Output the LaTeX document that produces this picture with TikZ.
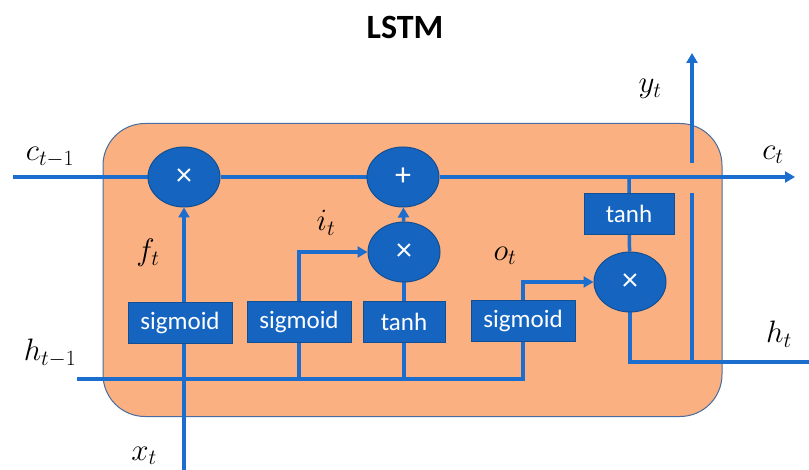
\RequirePackage{fix-cm}
\documentclass[tikz,border=0pt]{standalone}
\usepackage{fontspec}
\setsansfont{Carlito}
\usepackage{tikz}
\usetikzlibrary{arrows.meta, positioning, shapes.geometric, backgrounds}
\pgfdeclarelayer{cellbg}
\pgfsetlayers{cellbg,background,main}
\definecolor{lstmblue}{RGB}{21,101,192}
\definecolor{lstmedge}{RGB}{18,78,148}
\definecolor{lstmline}{RGB}{28,110,206}
\definecolor{cellfill}{RGB}{250,176,128}
\definecolor{celledge}{RGB}{72,108,158}
\tikzset{
  gate/.style   ={rectangle, draw=lstmedge, line width=1pt, fill=lstmblue,
                  text=white, minimum height=41pt, inner sep=0pt,
                  font=\sffamily\fontsize{25}{27}\selectfont},
  op/.style     ={ellipse, draw=lstmedge, line width=1pt, fill=lstmblue,
                  text=white, minimum width=72pt, minimum height=60pt,
                  inner sep=0pt, font=\sffamily\fontsize{32}{34}\selectfont},
  cellbox/.style={rectangle, draw=celledge, line width=1pt, fill=cellfill,
                  rounded corners=42pt, inner sep=0pt},
  wire/.style   ={line width=3.5pt, lstmline},
  ar/.style     ={wire, -{Triangle[length=10pt, width=11pt]}},
  lbl/.style    ={font=\fontsize{31}{34}\selectfont, inner sep=0pt}
}

\begin{document}
\begin{tikzpicture}[x=1pt, y=-1pt]
\useasboundingbox (0,0) rectangle (809,470);

%  Title
\node[font=\sffamily\bfseries\fontsize{34}{36}\selectfont] (title)
      at (405,27) {LSTM};

%  Cell body
\begin{pgfonlayer}{cellbg}
\node[cellbox, minimum width=619pt, minimum height=293pt] (cell)
      at (412.5,270) {};
\end{pgfonlayer}

%  Pointwise operations
\node[op] (mulf) at (184,177) {×};
\node[op] (addc) at (403,177) {+};
\node[op] (muli) at (404,252) {×};
\node[op] (mulo) at (630,282) {×};

%  Layers
\node[gate, minimum width=104pt] (sigf)  at (180,323) {sigmoid};
\node[gate, minimum width=104pt] (sigi)  at (299,322) {sigmoid};
\node[gate, minimum width=82pt]  (tanhi) at (404,322) {tanh};
\node[gate, minimum width=104pt] (sigo)  at (523,321) {sigmoid};
\node[gate, minimum width=90pt]  (tanhc) at (629,214) {tanh};

%  Inputs and outputs
\coordinate (cin)  at (13,177);
\coordinate (cout) at (795,177);
\coordinate (hin)  at (77,379);
\coordinate (hout) at (809,362);
\coordinate (xin)  at (184,470);
\coordinate (ytap) at (692,362);
\coordinate (ylow) at (692,193);
\coordinate (yup)  at (692,163);
\coordinate (yout) at (692,53);

%  Labels
\node[lbl] (lcin)  at (50,157)  {$c_{t-1}$};
\node[lbl] (lcout) at (773,155) {$c_t$};
\node[lbl] (lhin)  at (50,353)  {$h_{t-1}$};
\node[lbl] (lhout) at (779,334) {$h_t$};
\node[lbl] (lxin)  at (144,456) {$x_t$};
\node[lbl] (lyout) at (650,89)  {$y_t$};
\node[lbl] (lf)    at (148,253) {$f_t$};
\node[lbl] (li)    at (326,223) {$i_t$};
\node[lbl] (lo)    at (505,256) {$o_t$};

%  Connections
\begin{scope}[on background layer]
\draw[ar] (cin) -- (mulf) -- (addc) -- (cout);
\draw[ar] (xin) -- (mulf);
\draw[wire] (hin) -| (sigo);
\draw[wire] (sigi |- hin) -- (sigi);
\draw[ar] (sigi) |- (muli);
\draw[wire] (tanhi |- hin) -- (tanhi) -- (muli);
\draw[ar] (muli) -- (addc);
\draw[ar] (sigo) |- (mulo);
\draw[wire] (tanhc |- cout) -- (tanhc) -- (mulo);
\draw[wire] (mulo) |- (hout);
\draw[wire] (ytap) -- (ylow);
\draw[ar] (yup) -- (yout);
\end{scope}
\end{tikzpicture}
\end{document}
